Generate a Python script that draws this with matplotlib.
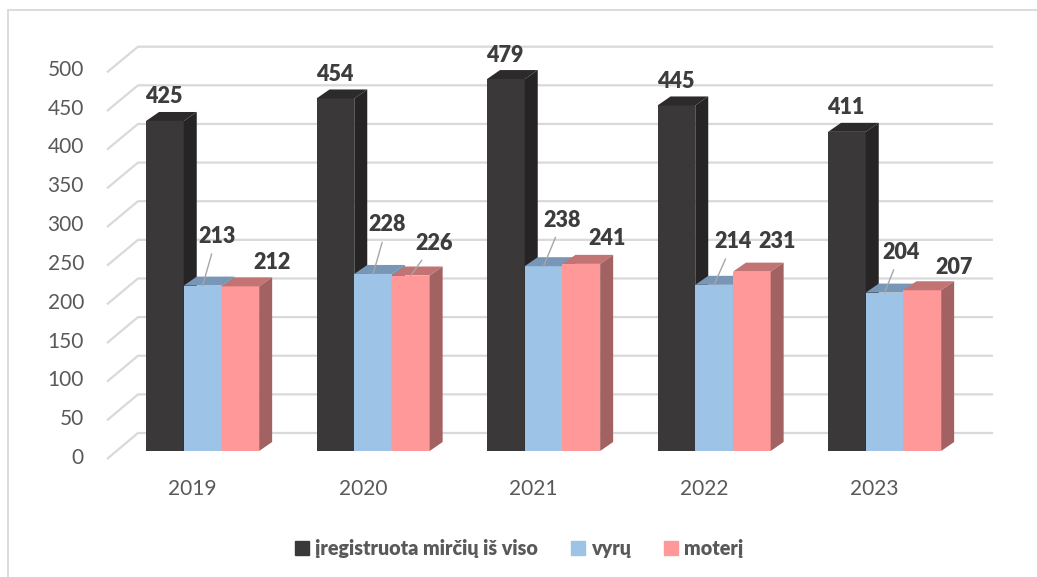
"""3D-style clustered column chart: registered deaths by year and sex."""

import matplotlib.pyplot as plt
from matplotlib.lines import Line2D
from matplotlib.patches import Patch, Polygon

years = ["2019", "2020", "2021", "2022", "2023"]
total = [425, 454, 479, 445, 411]
men = [213, 228, 238, 214, 204]
women = [212, 226, 241, 231, 207]
series_names = ["įregistruota mirčių iš viso", "vyrų", "moterį"]
y_ticks = [0, 50, 100, 150, 200, 250, 300, 350, 400, 450, 500]

# label offsets in pixels (right, up) from the top centre of each bar's front face
total_offsets = [(-1, 24)] * 5
men_offsets = [(14, 49), (14, 49), (19, 46), (19, 43), (16, 40)]
women_offsets = [(32, 24), (23, 32), (26, 25), (25, 30), (32, 23)]
men_leaders = [True, True, True, True, True]
women_leaders = [False, True, False, False, False]

FRONT = ["#3a3839", "#9dc3e6", "#ff9898"]
TOP = ["#2c2a2b", "#7896b5", "#c27474"]
SIDE = ["#262425", "#6f8ca8", "#a36262"]
GRID = "#d9d9d9"
TEXT = "#595959"
LABEL = "#3d3d3d"
FONT = "Lato"

W, H = 1037, 577
PX_X = 170.5   # pixels per category
PX_Y = 0.7765  # pixels per unit value
X0, Y0 = 202.6, 451  # pixel position of first group centre / baseline

bar_w = 37.7 / PX_X
depth_x = 13 / PX_X
depth_y = 9 / PX_Y

fig = plt.figure(figsize=(W / 100, H / 100), dpi=100)
ax = fig.add_axes([0, 0, 1, 1])
ax.set_xlim(-X0 / PX_X, (W - X0) / PX_X)
ax.set_ylim((Y0 - H) / PX_Y, Y0 / PX_Y)
ax.axis("off")

# chart frame (only the left and top edges are inside the picture)
fig.add_artist(Line2D([8 / W, 8 / W], [0, 1 - 10 / H], transform=fig.transFigure,
                      color=GRID, lw=1.3))
fig.add_artist(Line2D([8 / W, 1], [1 - 10 / H, 1 - 10 / H], transform=fig.transFigure,
                      color=GRID, lw=1.3))

# back wall gridlines with the diagonal floor/wall connectors on the left
wall_left = (138 - X0) / PX_X
wall_right = (993 - X0) / PX_X
front_left = (107 - X0) / PX_X
for v in y_ticks:
    back = 23.2 + 0.995 * v
    front = 0.996 * v - 10.3
    ax.plot([front_left, wall_left, wall_right], [front, back, back],
            color=GRID, lw=1.6, zorder=1, solid_capstyle="butt")
    ax.text((84 - X0) / PX_X, v - 9, str(v), ha="right", va="center",
            fontsize=15, color=TEXT, family=FONT)

for i, year in enumerate(years):
    ax.text(i - 10 / PX_X, (Y0 - 489) / PX_Y, year, ha="center", va="center",
            fontsize=15, color=TEXT, family=FONT)

series = [total, men, women]
offsets = [total_offsets, men_offsets, women_offsets]
leaders = [[False] * 5, men_leaders, women_leaders]

z = 2
for i in range(len(years)):
    for j, values in enumerate(series):
        v = values[i]
        xl = i + (j - 1.5) * bar_w
        xr = xl + bar_w
        ax.bar(xl, v, width=bar_w, align="edge", color=FRONT[j], zorder=z)
        top = [(xl, v), (xl + depth_x, v + depth_y), (xr + depth_x, v + depth_y), (xr, v)]
        side = [(xr, 0), (xr + depth_x, depth_y), (xr + depth_x, v + depth_y), (xr, v)]
        ax.add_patch(Polygon(top, closed=True, color=TOP[j], lw=0, zorder=z))
        ax.add_patch(Polygon(side, closed=True, color=SIDE[j], lw=0, zorder=z))
        z += 1

        dx, dy = offsets[j][i]
        arrow = None
        if leaders[j][i]:
            arrow = dict(arrowstyle="-", color="#a6a6a6", lw=1.0, shrinkA=3, shrinkB=0)
        ax.annotate(str(v), xy=(xl + bar_w / 2, v), xytext=(dx * 0.72, dy * 0.72),
                    textcoords="offset points", ha="center", va="center",
                    fontsize=15.5, fontweight="heavy", color=LABEL, family=FONT,
                    arrowprops=arrow, zorder=50)

handles = [Patch(color=c) for c in FRONT]
ax.legend(handles, series_names, loc="center", bbox_to_anchor=(519 / W, 1 - 548 / H),
          bbox_transform=fig.transFigure, ncol=3, frameon=False,
          prop=dict(family=FONT, weight="heavy", size=14.2), labelcolor=TEXT,
          handlelength=0.7, handleheight=0.7, handletextpad=0.3, columnspacing=1.7)

fig.savefig("out.png", dpi=100)
plt.close(fig)
